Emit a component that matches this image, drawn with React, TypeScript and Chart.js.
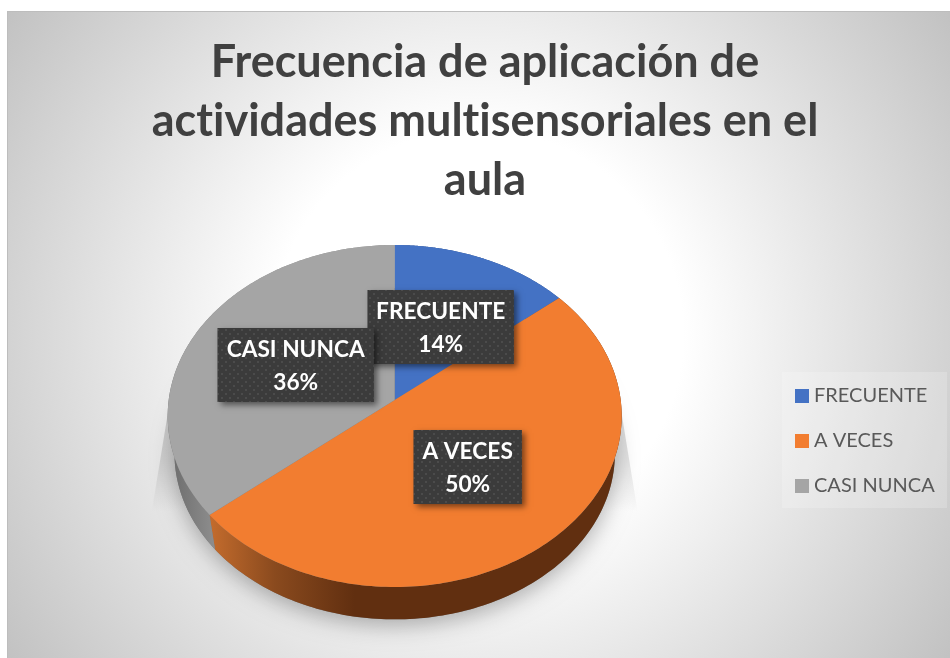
import React, { useEffect, useRef } from "react";
import { Chart, registerables } from "chart.js";

Chart.register(...registerables);

const categories = ["FRECUENTE", "A VECES", "CASI NUNCA"];
const percentValues = [14, 50, 36];
const sliceColors = ["#4472C4", "#F27D30", "#A5A5A5"];
const titleLines = ["Frecuencia de aplicación de", "actividades multisensoriales en el", "aula"];

// perspective of the tilted disc
const RX = 226;
const RY = 169.5;
const TILT = 0.0935;
const DEPTH = 38;
const BOTTOM_SCALE = 0.97;

function project(cx: number, cy: number, theta: number, scale = 1, f = 1) {
  const X = Math.sin(theta) * f;
  const Y = Math.cos(theta) * f;
  const d = 1 + TILT * Y;
  return { x: cx + (scale * RX * X) / d, y: cy - (scale * RY * Y) / d };
}

function rimPath(ctx: CanvasRenderingContext2D, cx: number, cy: number, a0: number, a1: number, scale = 1, move = false) {
  const steps = 160;
  for (let i = 0; i <= steps; i++) {
    const t = a0 + ((a1 - a0) * i) / steps;
    const p = project(cx, cy, t, scale);
    if (i === 0 && move) ctx.moveTo(p.x, p.y);
    else ctx.lineTo(p.x, p.y);
  }
}

function dotPattern(ctx: CanvasRenderingContext2D) {
  const c = document.createElement("canvas");
  c.width = 8;
  c.height = 8;
  const g = c.getContext("2d")!;
  g.fillStyle = "#3b3b3b";
  g.fillRect(0, 0, 8, 8);
  g.fillStyle = "#4b4b4b";
  g.fillRect(1, 1, 2, 2);
  g.fillRect(5, 5, 2, 2);
  return ctx.createPattern(c, "repeat")!;
}

function wedge(ctx: CanvasRenderingContext2D, cx: number, cy: number, side: number) {
  const top = cy + 8;
  const g = ctx.createLinearGradient(0, top, 0, cy + 112);
  g.addColorStop(0, "rgba(0,0,0,0.18)");
  g.addColorStop(0.5, "rgba(0,0,0,0.11)");
  g.addColorStop(1, "rgba(0,0,0,0)");
  ctx.fillStyle = g;
  ctx.beginPath();
  ctx.moveTo(cx + side * 226, top);
  ctx.lineTo(cx + side * 243, cy + 112);
  ctx.lineTo(cx + side * 190, cy + 112);
  ctx.lineTo(cx + side * 200, top);
  ctx.closePath();
  ctx.fill();
}

const backgroundPlugin = {
  id: "panel",
  afterLayout(chart: any) {
    const lg = chart.legend;
    const w = lg.width;
    lg.left = 775;
    lg.right = 775 + w;
    lg.top += 146;
    lg.bottom += 146;
    const t = chart.titleBlock;
    if (t) {
      t.left = 20;
      t.right = 950;
    }
  },
  beforeDraw(chart: any) {
    const ctx = chart.ctx as CanvasRenderingContext2D;
    ctx.save();
    ctx.fillStyle = "#ffffff";
    ctx.fillRect(0, 0, 950, 658);
    const g = ctx.createRadialGradient(478, 335, 0, 478, 335, 570);
    g.addColorStop(0, "#ffffff");
    g.addColorStop(0.36, "#ffffff");
    g.addColorStop(1, "#c2c2c2");
    ctx.fillStyle = g;
    ctx.fillRect(7, 11, 943, 647);
    ctx.fillStyle = "#bdbdbd";
    ctx.fillRect(7, 11, 943, 1);
    ctx.fillRect(7, 11, 1, 647);
    ctx.fillStyle = "rgba(255,255,255,0.2)";
    ctx.fillRect(782, 372, 165, 136);
    ctx.restore();
    // a hair of tracking keeps the "ti" ligature out of the title
    (ctx as any).letterSpacing = "0.01px";
  },
  beforeDatasetDraw(chart: any, args: any) {
    const ctx = chart.ctx as CanvasRenderingContext2D;
    const arcs = chart.getDatasetMeta(args.index).data as any[];
    const cx = arcs[0].x;
    const cy = arcs[0].y;
    const cyB = cy + DEPTH;
    ctx.save();
    // ground shadow
    wedge(ctx, cx, cy, -1);
    wedge(ctx, cx, cy, 1);
    ctx.save();
    ctx.shadowColor = "rgba(0,0,0,0.3)";
    ctx.shadowBlur = 22;
    ctx.shadowOffsetY = 6;
    ctx.fillStyle = "#777";
    ctx.beginPath();
    rimPath(ctx, cx, cyB, 0, Math.PI * 2, BOTTOM_SCALE, true);
    ctx.closePath();
    ctx.fill();
    ctx.restore();
    // side walls
    const greySide = ctx.createLinearGradient(cx - 227, 0, cx - 180, 0);
    greySide.addColorStop(0, "#6a6a6a");
    greySide.addColorStop(1, "#8e8e8e");
    const orangeSide = ctx.createLinearGradient(cx - 185, 0, cx - 40, 0);
    orangeSide.addColorStop(0, "#c46c2d");
    orangeSide.addColorStop(0.45, "#8a4a1e");
    orangeSide.addColorStop(1, "#612f10");
    const blueSide = "#2f4f88";
    const sideFills = [blueSide, orangeSide, greySide];
    arcs.forEach((arc, i) => {
      const a0 = arc.startAngle + Math.PI / 2;
      const a1 = arc.endAngle + Math.PI / 2;
      ctx.fillStyle = sideFills[i];
      ctx.beginPath();
      rimPath(ctx, cx, cy, a0, a1, 1, true);
      rimPath(ctx, cx, cyB, a1, a0, BOTTOM_SCALE);
      ctx.closePath();
      ctx.fill();
    });
    // top faces
    arcs.forEach((arc, i) => {
      const a0 = arc.startAngle + Math.PI / 2;
      const a1 = arc.endAngle + Math.PI / 2;
      ctx.fillStyle = sliceColors[i];
      ctx.beginPath();
      ctx.moveTo(cx, cy);
      rimPath(ctx, cx, cy, a0, a1);
      ctx.closePath();
      ctx.fill();
    });
    ctx.restore();
    return false;
  },
  afterDatasetsDraw(chart: any) {
    const ctx = chart.ctx as CanvasRenderingContext2D;
    const arcs = chart.getDatasetMeta(0).data as any[];
    const cx = arcs[0].x;
    const cy = arcs[0].y;
    const boxes = [
      { dx: 46, dy: -73, w: 146 },
      { dx: 73, dy: 67, w: 108 },
      { dx: -99, dy: -35, w: 156 },
    ];
    const pat = dotPattern(ctx);
    ctx.save();
    boxes.forEach((b, i) => {
      const x = cx + b.dx;
      const y = cy + b.dy;
      ctx.save();
      ctx.shadowColor = "rgba(0,0,0,0.5)";
      ctx.shadowBlur = 6;
      ctx.shadowOffsetX = 3;
      ctx.shadowOffsetY = 3;
      ctx.fillStyle = "#3b3b3b";
      ctx.fillRect(x - b.w / 2, y - 37, b.w, 74);
      ctx.restore();
      ctx.fillStyle = pat;
      ctx.fillRect(x - b.w / 2, y - 37, b.w, 74);
      ctx.fillStyle = "#ffffff";
      ctx.font = "bold 22.7px Lato";
      ctx.textAlign = "center";
      ctx.textBaseline = "middle";
      ctx.fillText(categories[i], x, y - 15);
      ctx.fillText(percentValues[i] + "%", x, y + 18);
    });
    ctx.restore();
  },
};

export default function App() {
  const ref = useRef<HTMLCanvasElement>(null);
  useEffect(() => {
    document.body.style.margin = "0";
    const chart = new Chart(ref.current!, {
      type: "pie",
      data: {
        labels: categories,
        datasets: [{ data: percentValues, backgroundColor: sliceColors, borderWidth: 0 }],
      },
      options: {
        responsive: false,
        animation: false,
        layout: { padding: { left: 9, right: 0, top: 0, bottom: 68 } },
        plugins: {
          title: {
            display: true,
            text: titleLines,
            color: "#404040",
            font: { family: "Lato", size: 45, weight: "bold", lineHeight: 59 / 45 },
            padding: { top: 33, bottom: 0 },
          },
          legend: {
            position: "right",
            align: "center",
            labels: {
              color: "#595959",
              font: { family: "Lato", size: 20 },
              boxWidth: 4,
              boxHeight: 14,
              usePointStyle: true,
              pointStyle: "rect",
              padding: 25,
            },
          },
          tooltip: { enabled: false },
        },
      },
      plugins: [backgroundPlugin],
    } as any);
    return () => chart.destroy();
  }, []);
  return <canvas ref={ref} width={950} height={658} style={{ display: "block" }} />;
}
